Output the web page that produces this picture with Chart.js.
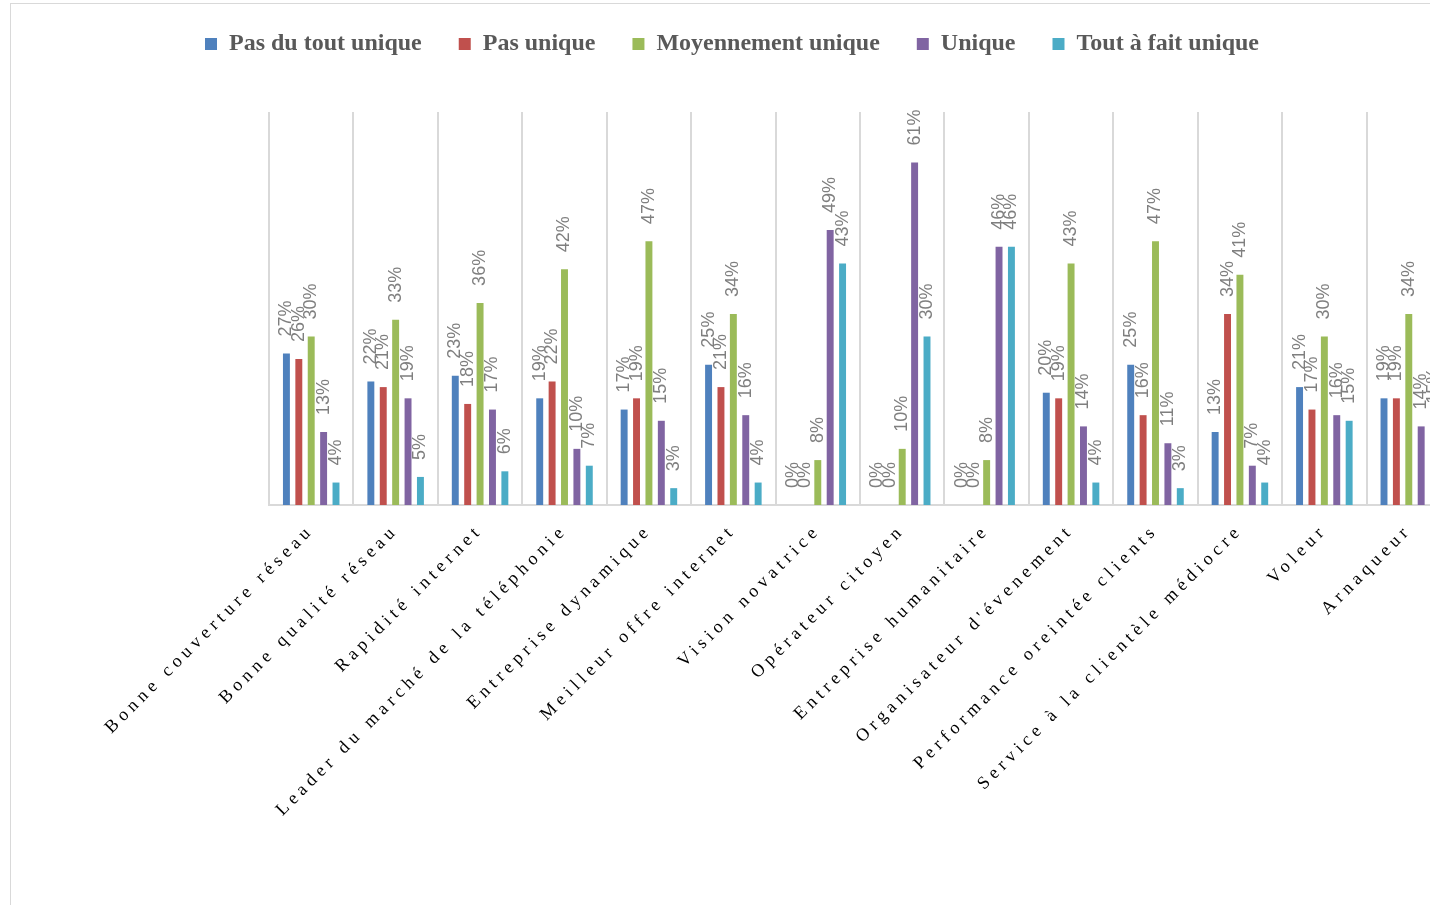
<!DOCTYPE html>
<html>
<head>
<meta charset="utf-8">
<script src="https://cdn.jsdelivr.net/npm/chart.js@4.4.1/dist/chart.umd.min.js"></script>
<style>
  html, body { margin: 0; padding: 0; background: #fff; overflow: hidden; width: 1430px; height: 905px; }
  #wrap { position: absolute; left: 0; top: 0; width: 1460px; height: 905px; }
</style>
</head>
<body>
<div id="wrap"><canvas id="chart" width="1460" height="905"></canvas></div>
<script>
// Image attributes and the share of answers (in %) for each uniqueness level
const categories = [
  'Bonne couverture réseau',
  'Bonne qualité réseau',
  'Rapidité internet',
  'Leader du marché de la téléphonie',
  'Entreprise dynamique',
  'Meilleur offre internet',
  'Vision novatrice',
  'Opérateur citoyen',
  'Entreprise humanitaire',
  "Organisateur d'évenement",
  'Performance oreintée clients',
  'Service à la clientèle médiocre',
  'Voleur',
  'Arnaqueur'
];
const seriesNames = ['Pas du tout unique', 'Pas unique', 'Moyennement unique', 'Unique', 'Tout à fait unique'];
const pasDuToutUnique   = [27, 22, 23, 19, 17, 25, 0, 0, 0, 20, 25, 13, 21, 19];
const pasUnique         = [26, 21, 18, 22, 19, 21, 0, 0, 0, 19, 16, 34, 17, 19];
const moyennementUnique = [30, 33, 36, 42, 47, 34, 8, 10, 8, 43, 47, 41, 30, 34];
const unique            = [13, 19, 17, 10, 15, 16, 49, 61, 46, 14, 11, 7, 16, 14];
const toutAFaitUnique   = [4, 5, 6, 7, 3, 4, 43, 30, 46, 4, 3, 4, 15, 15];
const yMax = 70;

const seriesValues = [pasDuToutUnique, pasUnique, moyennementUnique, unique, toutAFaitUnique];
const seriesColors = ['#4F81BD', '#C0504D', '#9BBB59', '#8064A2', '#4BACC6'];

const LEGEND_BLOCK = 117;
const X_LETTER_SPACING = '4.7px';

// Outer frame of the chart object
const frame = {
  id: 'frame',
  beforeDraw(chart) {
    const ctx = chart.ctx;
    ctx.save();
    ctx.fillStyle = '#ffffff';
    ctx.fillRect(0, 0, chart.width, chart.height);
    ctx.strokeStyle = '#d9d9d9';
    ctx.lineWidth = 1;
    ctx.strokeRect(10.5, 3.5, chart.width + 50, chart.height + 50);
    ctx.restore();

    // spaced-out category labels
    const xs = chart.scales.x;
    if (xs && !xs.__spaced) {
      const drawLabels = xs.drawLabels;
      xs.drawLabels = function (area) {
        const c = this.ctx;
        c.save();
        c.letterSpacing = X_LETTER_SPACING;
        drawLabels.call(this, area);
        c.restore();
      };
      xs.__spaced = true;
    }
  }
};

// Room between the legend and the plot area
const legendSpacer = {
  id: 'legendSpacer',
  beforeLayout(chart) {
    const lg = chart.legend;
    if (lg && !lg.__spaced) {
      const fit = lg.fit;
      lg.fit = function () {
        fit.call(this);
        this.height = LEGEND_BLOCK;
      };
      lg.__spaced = true;
    }
  }
};

// Vertical value labels above each bar
const valueLabels = {
  id: 'valueLabels',
  afterDatasetsDraw(chart) {
    const ctx = chart.ctx;
    ctx.save();
    ctx.font = '18px "Liberation Sans", Arial, sans-serif';
    ctx.fillStyle = '#7f7f7f';
    ctx.textAlign = 'left';
    ctx.textBaseline = 'middle';
    chart.data.datasets.forEach((ds, i) => {
      const meta = chart.getDatasetMeta(i);
      meta.data.forEach((bar, j) => {
        const { x, y } = bar.getProps(['x', 'y'], true);
        ctx.save();
        ctx.translate(x, y - 17);
        ctx.rotate(-Math.PI / 2);
        ctx.fillText(ds.data[j] + '%', 0, 0);
        ctx.restore();
      });
    });
    ctx.restore();
  }
};

new Chart(document.getElementById('chart'), {
  type: 'bar',
  data: {
    labels: categories,
    datasets: seriesNames.map((name, i) => ({
      label: name,
      data: seriesValues[i],
      backgroundColor: seriesColors[i],
      borderWidth: 0,
      categoryPercentage: 0.734,
      barPercentage: 0.56
    }))
  },
  options: {
    responsive: false,
    animation: false,
    layout: { padding: { left: 13, right: 9, top: -5, bottom: 0 } },
    plugins: {
      legend: {
        position: 'top',
        align: 'center',
        labels: {
          boxWidth: 12,
          boxHeight: 12,
          padding: 37,
          color: '#595959',
          font: { family: '"Liberation Serif", "Times New Roman", serif', size: 24, weight: 'bold' }
        }
      },
      tooltip: { enabled: false }
    },
    scales: {
      x: {
        grid: { display: true, offset: true, color: '#d9d9d9', lineWidth: 2, drawTicks: false },
        border: { display: true, color: '#d9d9d9', width: 2 },
        ticks: {
          autoSkip: false,
          minRotation: 45,
          maxRotation: 45,
          padding: 15,
          color: '#000000',
          font: { family: '"Liberation Serif", "Times New Roman", serif', size: 18 }
        },
        afterFit(scale) { scale.height = 400; }
      },
      y: {
        min: 0,
        max: yMax,
        grid: { display: false },
        border: { display: false },
        ticks: { display: false },
        afterFit(scale) { scale.width = 256; }
      }
    }
  },
  plugins: [frame, legendSpacer, valueLabels]
});
</script>
</body>
</html>
